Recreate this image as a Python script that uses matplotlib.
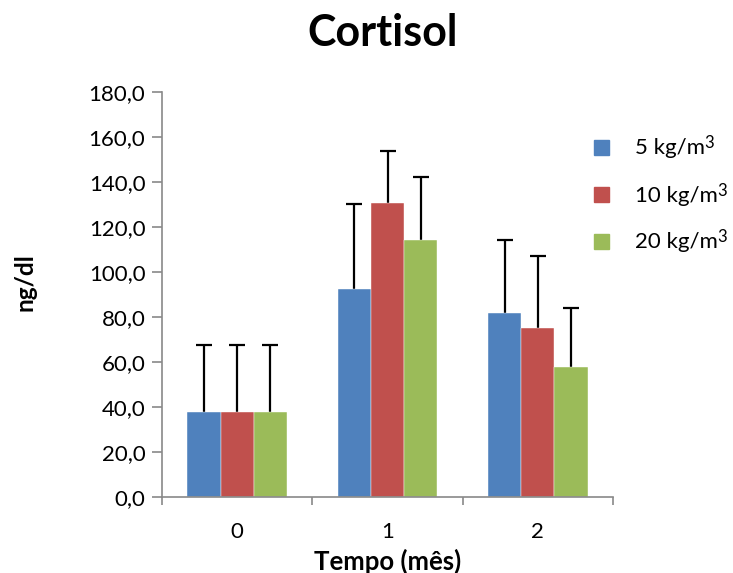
import matplotlib
matplotlib.use("Agg")
import matplotlib.pyplot as plt
from matplotlib.patches import Rectangle
import numpy as np

plt.rcParams['font.family'] = ['Lato', 'DejaVu Sans']

categories = ["0", "1", "2"]
series = ["5 kg/m", "10 kg/m", "20 kg/m"]
unit_sup = "3"
values = {
    "5 kg/m": [38.0, 92.5, 81.8],
    "10 kg/m": [38.0, 130.6, 75.1],
    "20 kg/m": [38.0, 114.2, 57.9],
}
errors = {
    "5 kg/m": [29.5, 37.7, 32.4],
    "10 kg/m": [29.5, 23.2, 32.0],
    "20 kg/m": [29.5, 28.0, 26.1],
}
colors = ["#4F81BD", "#C0504D", "#9BBB59"]
yticks = [0, 20, 40, 60, 80, 100, 120, 140, 160, 180]

W, H = 733, 573
fig = plt.figure(figsize=(W/100, H/100), dpi=100)
ax = fig.add_axes([162/W, 1-497/H, (613-162)/W, (497-92)/H])

x = np.arange(len(categories))
w = 0.2216
for i, s in enumerate(series):
    pos = x + (i - 1) * w
    ax.bar(pos, values[s], width=w, color=colors[i], label=s, zorder=3,
           edgecolor='white', linewidth=0.3)
    ax.errorbar(pos, values[s], yerr=errors[s], fmt='none',
                ecolor='black', elinewidth=1.6, capsize=6, capthick=1.6, zorder=2)

ax.set_xlim(-0.5, 2.5)
ax.set_ylim(0, 180)
ax.set_yticks(yticks)
ax.set_yticklabels([f"{v:.1f}".replace('.', ',') for v in yticks], fontsize=16)
ax.set_xticks([-0.5, 0.5, 1.5, 2.5])
ax.set_xticklabels([])
ax.set_xticks(x, minor=True)
ax.set_xticklabels(categories, minor=True, fontsize=16)
ax.tick_params(axis='x', which='minor', length=0, pad=18)
ax.tick_params(axis='x', which='major', length=6, color='#898989', width=1.2, direction='out')
ax.tick_params(axis='y', length=7, color='#898989', width=1.2, direction='out', pad=5)
for sp in ['top', 'right']:
    ax.spines[sp].set_visible(False)
for sp in ['left', 'bottom']:
    ax.spines[sp].set_color('#898989')
    ax.spines[sp].set_linewidth(1.2)
    ax.spines[sp].set_zorder(4)

fig.text(25/W, 1-282/H, "ng/dl", rotation=90, ha='center', va='center',
         fontsize=17.5, fontweight='bold')
fig.text(388/W, 1-570/H, "Tempo (mês)", ha='center', va='baseline',
         fontsize=18.5, fontweight='bold')
fig.text(383/W, 1-33/H, "Cortisol", ha='center', va='center', fontsize=31, fontweight='bold')

# legend (manual, to place the superscript)
fig.canvas.draw()
renderer = fig.canvas.get_renderer()
inv = fig.transFigure.inverted()
row_centers = [147, 194, 241]
for i, s in enumerate(series):
    cy = row_centers[i]
    fig.patches.append(Rectangle((594/W, 1-(cy+7.5)/H), 15/W, 15/H,
                                 transform=fig.transFigure, color=colors[i]))
    t = fig.text(635/W, 1-(cy+7.5)/H, s, ha='left', va='baseline', fontsize=16)
    bb = t.get_window_extent(renderer)
    x1, y1 = inv.transform((bb.x1 - 1, bb.y1 + 3))
    fig.text(x1, y1, unit_sup, ha='left', va='top', fontsize=12)

fig.savefig("out.png", dpi=100)
